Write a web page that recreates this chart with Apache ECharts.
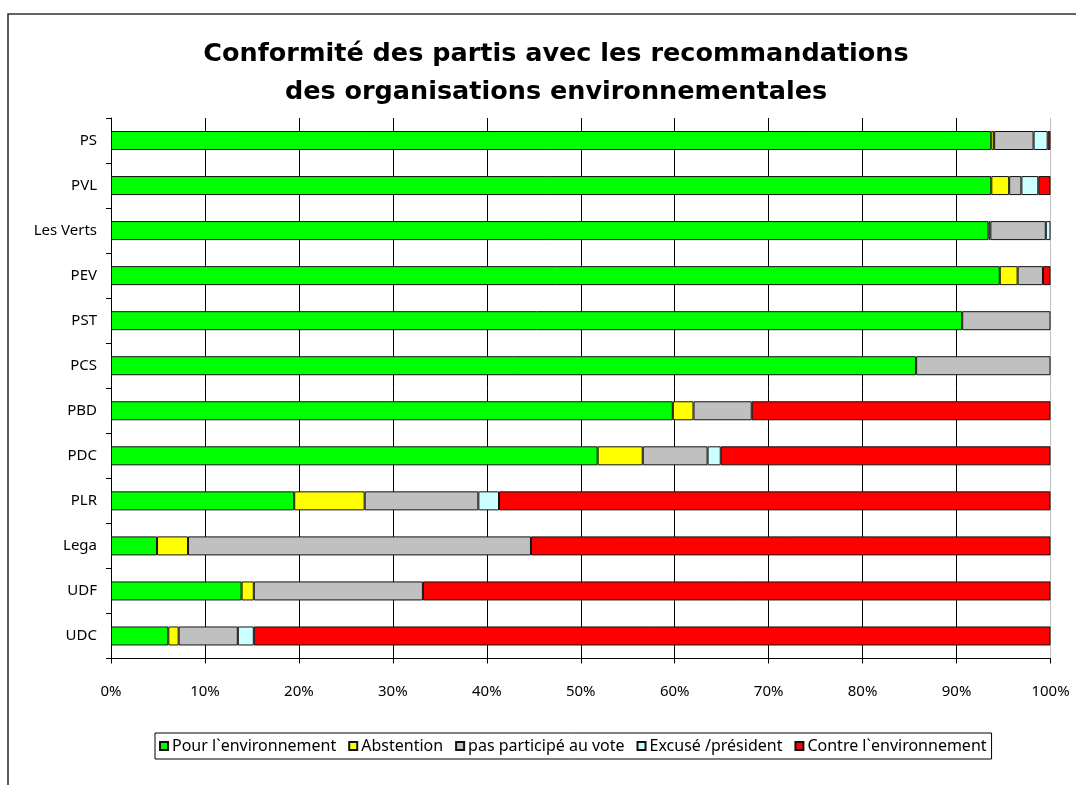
<!DOCTYPE html>
<html>
<head>
<meta charset="utf-8">
<script src="https://cdn.jsdelivr.net/npm/echarts@6/dist/echarts.min.js"></script>
<style>
html,body{margin:0;padding:0;background:#fff;}
#chart{width:1076px;height:785px;}
</style>
</head>
<body>
<div id="chart"></div>
<script>
const titleText = 'Conformité des partis avec les recommandations\ndes organisations environnementales';
const parties = ['PS', 'PVL', 'Les Verts', 'PEV', 'PST', 'PCS', 'PBD', 'PDC', 'PLR', 'Lega', 'UDF', 'UDC'];
const seriesNames = ['Pour l`environnement', 'Abstention', 'pas participé au vote', 'Excusé /président', 'Contre l`environnement'];
const pour       = [93.7, 93.7, 93.4, 94.6, 90.6, 85.7, 59.8, 51.8, 19.5, 4.9, 13.9, 6.1];
const abstention = [0.3, 1.9, 0.2, 1.9, null, null, 2.2, 4.8, 7.5, 3.3, 1.3, 1.1];
const pasVote    = [4.2, 1.3, 5.9, 2.7, 9.4, 14.3, 6.2, 6.9, 12.1, 36.5, 18.0, 6.3];
const excuse     = [1.5, 1.8, 0.5, null, null, null, null, 1.4, 2.2, null, null, 1.7];
const contre     = [0.3, 1.3, null, 0.8, null, null, 31.8, 35.1, 58.7, 55.3, 66.8, 84.8];
const xTicks = [0, 10, 20, 30, 40, 50, 60, 70, 80, 90, 100];

const colors = ['#00ff00', '#ffff00', '#c0c0c0', '#ccffff', '#ff0000'];
const values = [pour, abstention, pasVote, excuse, contre];
const font = '"Noto Sans", sans-serif';

const chart = echarts.init(document.getElementById('chart'), null, {renderer: 'canvas'});
const gridColors = xTicks.map((t, i) => i === xTicks.length - 1 ? '#c0c0c0' : '#000');

chart.setOption({
  animation: false,
  backgroundColor: '#fff',
  color: colors,
  title: {
    text: titleText,
    left: 556,
    top: 35,
    padding: 0,
    textAlign: 'center',
    textStyle: {
      fontFamily: '"DejaVu Sans", sans-serif',
      fontWeight: 'bold',
      fontSize: 25.5,
      lineHeight: 38,
      color: '#000'
    }
  },
  graphic: [{
    type: 'rect',
    shape: {x: 8, y: 14, width: 1200, height: 900},
    style: {fill: 'none', stroke: '#333', lineWidth: 1.6},
    silent: true,
    z: -1
  }],
  legend: {
    data: seriesNames,
    left: 155,
    top: 733,
    orient: 'horizontal',
    icon: 'rect',
    itemWidth: 8,
    itemHeight: 8,
    itemGap: 12,
    padding: [5, 5, 5, 4],
    borderColor: '#000',
    borderWidth: 1,
    backgroundColor: '#fff',
    borderRadius: 0,
    textStyle: {fontFamily: font, fontSize: 16, color: '#000', padding: [0, 0, 0, -1]}
  },
  grid: {left: 111, top: 118, right: 25.5, bottom: 126.5, containLabel: false},
  xAxis: {
    type: 'value',
    min: 0,
    max: 100,
    interval: 10,
    axisLine: {show: true, lineStyle: {color: '#000', width: 1}},
    axisTick: {show: true, length: 5, lineStyle: {color: '#000'}},
    axisLabel: {formatter: '{value}%', margin: 26, fontFamily: font, fontSize: 15, color: '#000'},
    splitLine: {show: true, lineStyle: {color: gridColors, width: 1}}
  },
  yAxis: {
    type: 'category',
    data: parties,
    inverse: true,
    axisLine: {show: true, lineStyle: {color: '#000', width: 1}},
    axisTick: {show: true, length: 5, alignWithLabel: false, lineStyle: {color: '#000'}},
    axisLabel: {margin: 14, fontFamily: font, fontSize: 15, color: '#000'},
    splitLine: {show: false}
  },
  series: seriesNames.map((name, i) => ({
    name: name,
    type: 'bar',
    stack: 'total',
    data: values[i],
    barWidth: 19,
    itemStyle: {color: colors[i], borderColor: '#111', borderWidth: 1}
  }))
});
</script>
</body>
</html>
